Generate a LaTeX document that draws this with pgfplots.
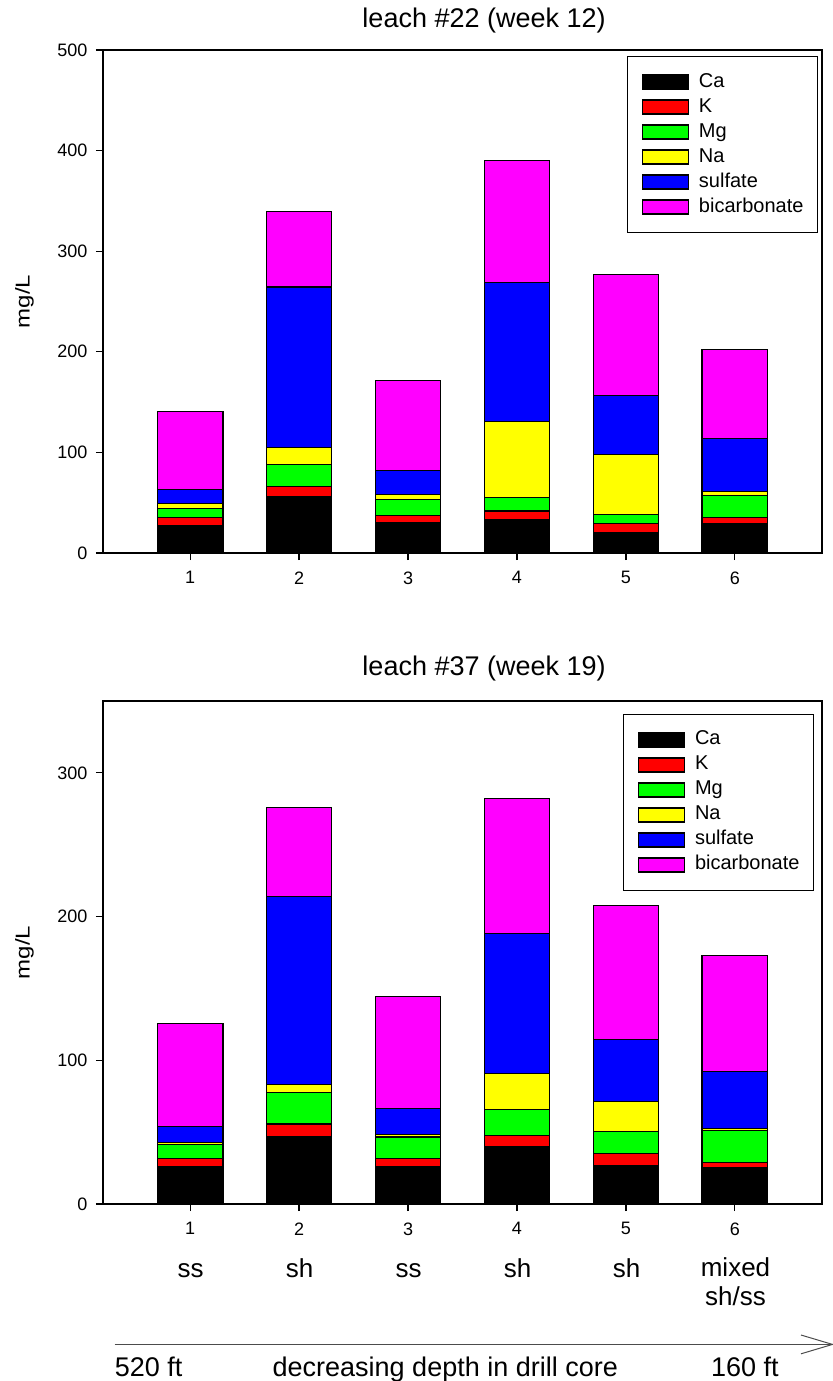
\documentclass[border=0pt]{standalone}
\usepackage{fontspec}
\setmainfont{Liberation Sans}
\usepackage{pgfplots}
\pgfplotsset{compat=1.18}
\usepackage{pgfplotstable}

\definecolor{cCa}{RGB}{0,0,0}
\definecolor{cK}{RGB}{255,0,0}
\definecolor{cMg}{RGB}{0,255,0}
\definecolor{cNa}{RGB}{255,255,0}
\definecolor{cSO}{RGB}{0,0,255}
\definecolor{cHCO}{RGB}{255,0,255}

% leachate chemistry, mg/L, one row per core sample
\pgfplotstableread{
pos Ca   K    Mg   Na   sulfate bicarb
1   27.4 7.6  8.8  5.2  13.7    78.3
2   56.2 10.2 22.0 16.7 159.3   75.3
3   30.1 7.6  15.4 5.1  24.0    89.7
4   33.6 8.2  13.0 76.0 137.7   121.9
5   20.5 8.6  9.6  58.9 58.9    119.9
6   29.5 5.4  22.6 3.5  52.7    89.0
}\leachA

\pgfplotstableread{
pos Ca   K    Mg   Na   sulfate bicarb
1   26.1 5.3  9.9  1.5  11.1    71.4
2   47.1 8.6  22.0 5.6  130.6   62.3
3   26.1 5.5  15.0 1.8  18.2    78.0
4   40.3 7.5  18.0 25.3 97.3    93.6
5   27.1 7.8  15.7 20.5 43.3    93.4
6   25.3 3.8  22.0 1.3  39.5    80.8
}\leachB

\newcommand\fs[1]{\fontsize{#1bp}{#1bp}\selectfont}

\pgfplotsset{
  seg/.style={fill=#1, draw=black, line width=1.1bp,
    legend image code/.code={\draw[fill=#1, draw=black, line width=1.1bp] (0bp,-7bp) rectangle (46bp,7bp);}},
  leachaxis/.style={
    scale only axis, width=719bp, height=503bp,
    xmin=0.2, xmax=6.8, ymin=0,
    xtick={1,...,6},
    ybar stacked, bar width=65.7bp,
    axis line style={line width=1.2bp},
    tick style={line width=1.2bp, black},
    tick align=outside, tick pos=left, major tick length=7bp,
    ticklabel style={font=\fs{18}},
    xticklabel style={yshift=-8bp},
    yticklabel style={xshift=-5bp},
    /pgf/number format/assume math mode=true,
    ylabel={\scalebox{1.2}[1]{mg/L}},
    ylabel style={font=\fs{20}, at={(axis description cs:-0.1094,0.5)}, anchor=center},
    legend cell align=left,
    legend style={
      anchor=north east, draw=black, line width=1bp, fill=white,
      inner xsep=14bp, inner ysep=16bp, row sep=6bp,
      font=\fs{20},
      nodes={inner sep=0pt, text height=14.5bp, text depth=4.5bp},
      /tikz/every odd column/.append style={column sep=10bp},
    },
  },
}

\begin{document}
\begin{tikzpicture}
\path[use as bounding box] (0,0) rectangle (833bp,-1381bp);

% leach #22
\begin{axis}[leachaxis, at={(103bp,-50bp)}, anchor=north west,
  ymax=500, ytick={0,100,...,500},
  title={leach \#22 (week 12)},
  title style={font=\fs{27}, at={(axis description cs:0.53,1)}, anchor=base, yshift=17bp},
  legend style={at={(0.9944,0.988)}}]
\addplot[seg=cCa]  table[x=pos,y=Ca]      {\leachA};
\addplot[seg=cK]   table[x=pos,y=K]       {\leachA};
\addplot[seg=cMg]  table[x=pos,y=Mg]      {\leachA};
\addplot[seg=cNa]  table[x=pos,y=Na]      {\leachA};
\addplot[seg=cSO]  table[x=pos,y=sulfate] {\leachA};
\addplot[seg=cHCO] table[x=pos,y=bicarb]  {\leachA};
\legend{Ca,K,Mg,Na,sulfate,bicarbonate}
\end{axis}

% leach #37
\begin{axis}[leachaxis, at={(103bp,-701bp)}, anchor=north west,
  ymax=350, ytick={0,100,200,300},
  title={leach \#37 (week 19)},
  title style={font=\fs{27}, at={(axis description cs:0.53,1)}, anchor=base, yshift=20bp},
  legend style={at={(0.9889,0.9742)}}]
\addplot[seg=cCa]  table[x=pos,y=Ca]      {\leachB};
\addplot[seg=cK]   table[x=pos,y=K]       {\leachB};
\addplot[seg=cMg]  table[x=pos,y=Mg]      {\leachB};
\addplot[seg=cNa]  table[x=pos,y=Na]      {\leachB};
\addplot[seg=cSO]  table[x=pos,y=sulfate] {\leachB};
\addplot[seg=cHCO] table[x=pos,y=bicarb]  {\leachB};
\legend{Ca,K,Mg,Na,sulfate,bicarbonate}
\end{axis}

% lithology of each sample
\begin{scope}[every node/.append style={font=\fs{26}, anchor=base, inner sep=0pt}]
\node at (190.5bp,-1277bp) {ss};
\node at (299.5bp,-1277bp) {sh};
\node at (408.5bp,-1277bp) {ss};
\node at (517.5bp,-1277bp) {sh};
\node at (626.5bp,-1277bp) {sh};
\node at (735.5bp,-1276bp) {mixed};
\node at (735.5bp,-1305bp) {sh/ss};
\end{scope}

% depth arrow
\draw[line width=1bp, black!70] (114.6bp,-1344.4bp) -- (832.5bp,-1344.4bp);
\draw[line width=1bp, black!70] (801bp,-1335bp) -- (832.5bp,-1344.4bp) -- (801bp,-1353.8bp);
\begin{scope}[every node/.append style={font=\fs{27}, anchor=base west, inner sep=0pt}]
\node at (114.6bp,-1376.5bp) {520 ft};
\node at (272.5bp,-1376.5bp) {decreasing depth in drill core};
\node at (710.8bp,-1376.5bp) {160 ft};
\end{scope}
\end{tikzpicture}
\end{document}
